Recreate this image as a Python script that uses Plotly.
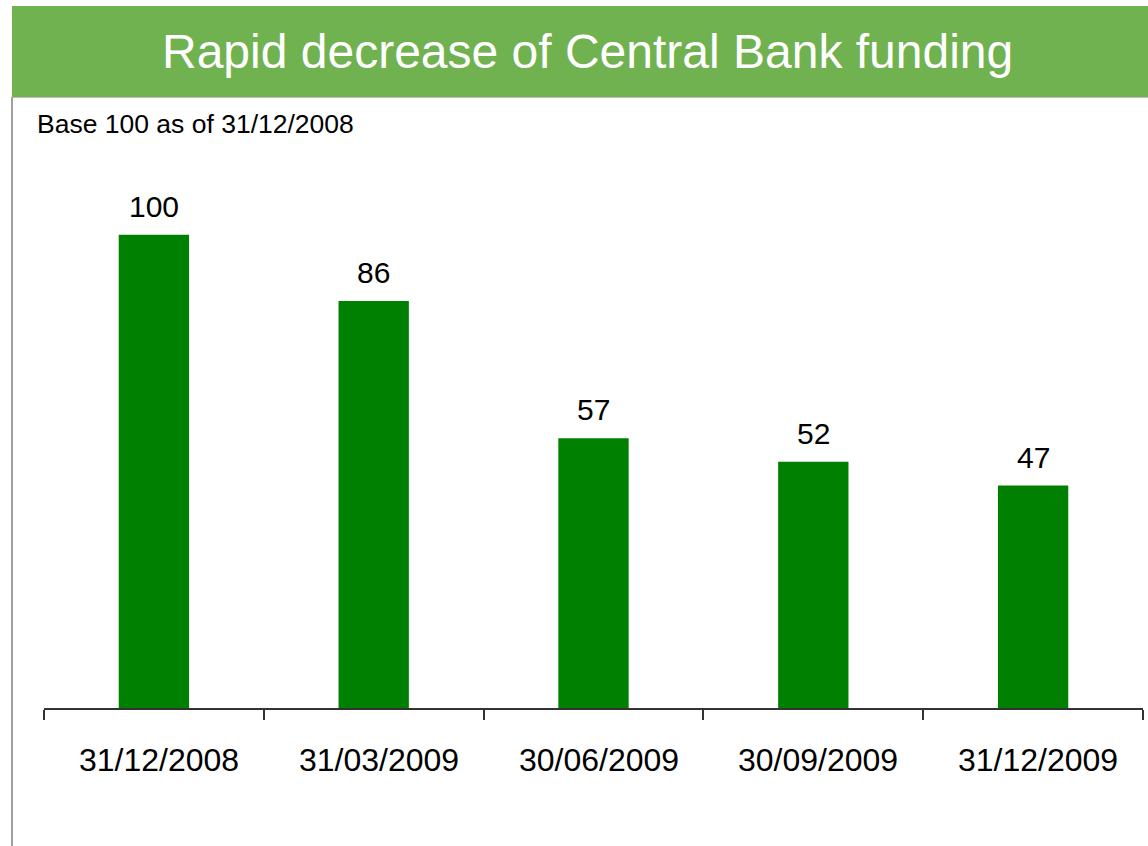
import plotly.graph_objects as go

categories = ["31/12/2008", "31/03/2009", "30/06/2009", "30/09/2009", "31/12/2009"]
values = [100, 86, 57, 52, 47]
title_text = "Rapid decrease of Central Bank funding"
subtitle_text = "Base 100 as of 31/12/2008"

W, H = 1148, 846
FONT = "Liberation Sans, Arial, sans-serif"

def fx(p):
    return p / W

def fy(p):
    return 1 - p / H

fig = go.Figure()
fig.add_trace(go.Bar(
    x=categories, y=values,
    marker=dict(color="#008000", line=dict(width=0)),
    hoverinfo="x+y",
))

for c, v in zip(categories, values):
    fig.add_annotation(
        x=c, y=v, xref="x", yref="y", text=str(v), showarrow=False,
        yanchor="bottom", yshift=10,
        font=dict(family=FONT, size=30, color="#000000"),
    )
    # category label under the axis
    fig.add_annotation(
        x=c, y=0, xref="x", yref="y", text=c, showarrow=False,
        yanchor="top", yshift=-32, xshift=5,
        font=dict(family=FONT, size=32, color="#000000"),
    )

shapes = [
    dict(type="rect", xref="paper", yref="paper", x0=fx(12), x1=fx(1148), y0=fy(97), y1=fy(6),
         fillcolor="#71B250", line=dict(width=0), layer="below"),
    dict(type="line", xref="paper", yref="paper", x0=fx(12), x1=fx(1148), y0=fy(97.5), y1=fy(97.5),
         line=dict(color="#BFBFBF", width=1)),
    dict(type="line", xref="paper", yref="paper", x0=fx(12), x1=fx(12), y0=fy(97), y1=fy(846),
         line=dict(color="#A0A0A0", width=2)),
]

fig.add_annotation(
    x=fx(587.5), y=fy(51.5), xref="paper", yref="paper", text=title_text, showarrow=False,
    xanchor="center", yanchor="middle",
    font=dict(family=FONT, size=48, color="#FFFFFF"),
)
fig.add_annotation(
    x=fx(35), y=fy(124), xref="paper", yref="paper", text=subtitle_text, showarrow=False,
    xanchor="left", yanchor="middle",
    font=dict(family=FONT, size=26.5, color="#000000"),
)

fig.update_layout(
    width=W, height=H,
    margin=dict(l=0, r=0, t=0, b=0),
    paper_bgcolor="#FFFFFF", plot_bgcolor="#FFFFFF",
    showlegend=False,
    bargap=0.68,
    shapes=shapes,
    xaxis=dict(
        domain=[fx(44), fx(1143)],
        type="category",
        tickson="boundaries",
        ticks="outside", ticklen=10, tickwidth=1.5, tickcolor="#333333",
        showline=True, linecolor="#333333", linewidth=1.5,
        showgrid=False, zeroline=False,
        showticklabels=False,
        fixedrange=True,
    ),
    yaxis=dict(
        domain=[fy(708), fy(140)],
        range=[0, 120],
        visible=False,
        showgrid=False, zeroline=False,
        fixedrange=True,
    ),
)

fig.write_html("out.html")
